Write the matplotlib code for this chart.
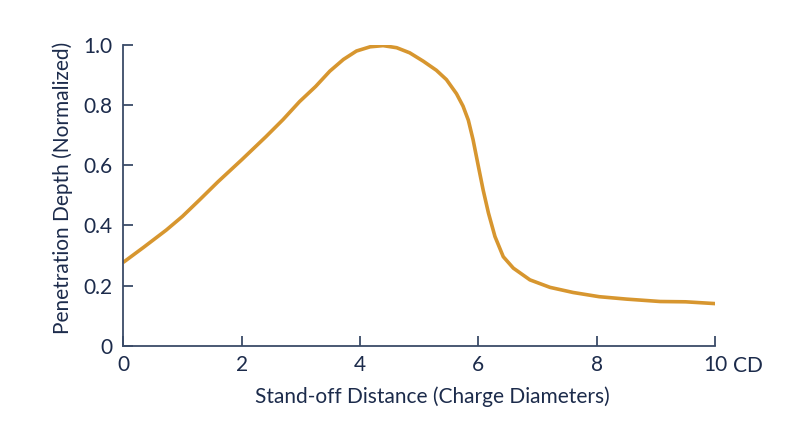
import matplotlib
matplotlib.use("Agg")
import matplotlib.pyplot as plt

# values
standoff = [0, 0.35, 0.73, 1.0, 1.29, 1.6, 2.0, 2.41, 2.7, 2.98, 3.25, 3.49,
            3.72, 3.94, 4.17, 4.39, 4.62, 4.84, 5.07, 5.29, 5.46, 5.63, 5.74,
            5.83, 5.91, 6.0, 6.08, 6.17, 6.28, 6.42, 6.59, 6.87, 7.21, 7.6,
            8.04, 8.5, 9.07, 9.5, 10.0]
depth = [0.277, 0.328, 0.385, 0.43, 0.485, 0.545, 0.618, 0.695, 0.752, 0.812,
         0.862, 0.913, 0.952, 0.980, 0.994, 0.998, 0.991, 0.974, 0.946, 0.916,
         0.885, 0.838, 0.797, 0.750, 0.685, 0.596, 0.518, 0.441, 0.363, 0.296,
         0.258, 0.219, 0.194, 0.177, 0.163, 0.155, 0.147, 0.146, 0.14]

x_ticks = [0, 2, 4, 6, 8, 10]
x_labels = ["0", "2", "4", "6", "8", "10"]
y_ticks = [0, 0.2, 0.4, 0.6, 0.8, 1.0]
y_labels = ["0", "0.2", "0.4", "0.6", "0.8", "1.0"]

navy = "#1c2b4b"
spine_col = "#3a4b68"
gold = "#d7962f"

plt.rcParams['font.family'] = ['Lato', 'DejaVu Sans']

fig = plt.figure(figsize=(8, 4.47), dpi=100)
ax = fig.add_axes([0.154, 0.2266, 0.740, 0.6727])

ax.plot(standoff, depth, color=gold, linewidth=2.6, solid_capstyle='butt',
        solid_joinstyle='round')

ax.set_xlim(0, 10)
ax.set_ylim(0, 1.0)
ax.set_xticks(x_ticks)
ax.set_xticklabels(x_labels)
ax.set_yticks(y_ticks)
ax.set_yticklabels(y_labels)

for s in ['top', 'right']:
    ax.spines[s].set_visible(False)
for s in ['left', 'bottom']:
    ax.spines[s].set_color(spine_col)
    ax.spines[s].set_linewidth(1.3)

ax.tick_params(axis='x', direction='in', length=7, width=1.3, color=spine_col,
               labelcolor=navy, labelsize=15, pad=7)
ax.tick_params(axis='y', direction='in', length=7, width=1.3, color=spine_col,
               labelcolor=navy, labelsize=15, pad=8)

# unit after the last x tick
ax.annotate("CD", xy=(10, 0), xycoords='data', xytext=(13, -7.5),
            textcoords='offset points', ha='left', va='top',
            color=navy, fontsize=15, annotation_clip=False)

fig.text(0.54, 0.112, "Stand-off Distance (Charge Diameters)", ha='center',
         va='center', color=navy, fontsize=15)
fig.text(0.078, 0.58, "Penetration Depth (Normalized)", ha='center',
         va='center', rotation=90, color=navy, fontsize=15)

fig.savefig("out.png", dpi=100, facecolor='white')
